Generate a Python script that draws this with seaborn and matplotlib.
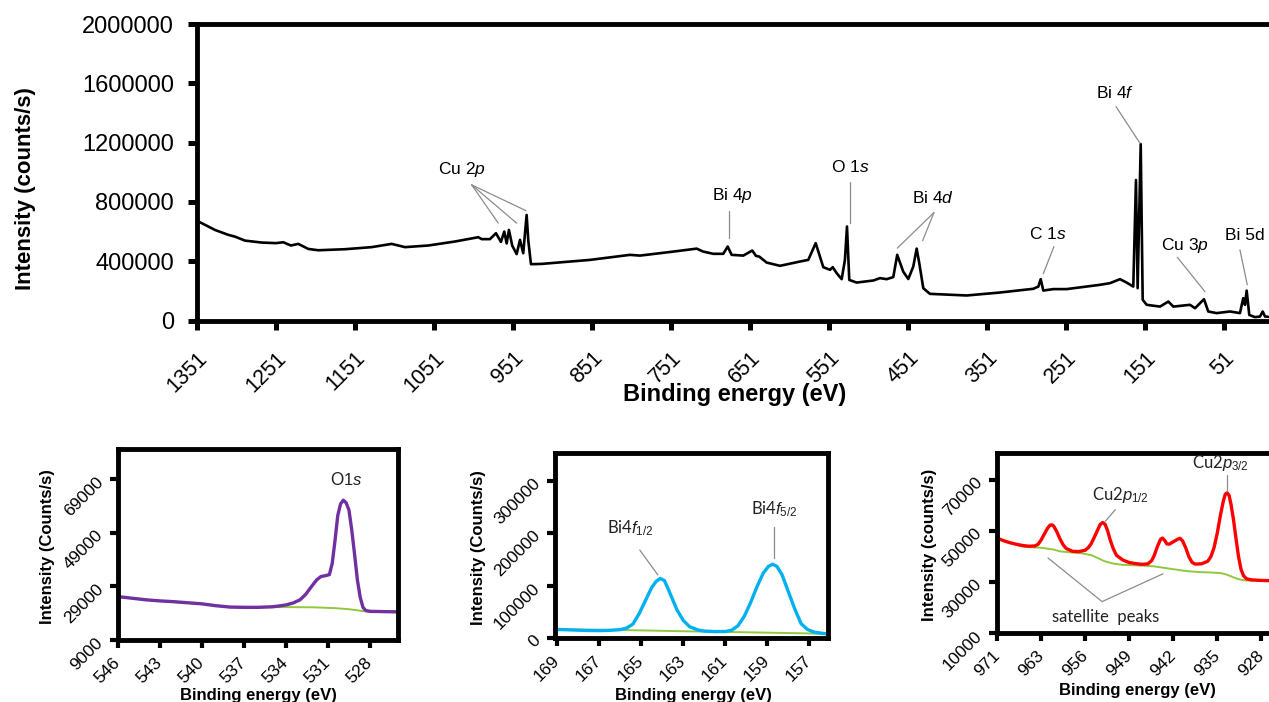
import matplotlib
matplotlib.use("Agg")
import matplotlib.pyplot as plt
import seaborn as sns

# ---------------- survey scan (binding energy in eV, counts/s) ----------------
survey_be = [1351, 1347.2, 1328.2, 1311.4, 1302.9, 1290.2, 1269.1, 1251, 1241.8, 1232.0,
             1222.8, 1210.1, 1197.5, 1163.7, 1129.9, 1104.5, 1087.7, 1058.2, 1024.4, 994.9,
             990.6, 980.1, 972.5, 966.2, 962.0, 959.0, 956.1, 951.9, 946.3, 942.1,
             938.0, 933.7, 931.6, 928.2, 914.7, 853.5, 802.9, 790.2, 748.1, 718.5,
             710.1, 697.5, 684.8, 679.2, 674.2, 659.5, 648.1, 643.4, 639.2, 629.9,
             613.0, 587.7, 577.2, 567.8, 562.4, 558.2, 549.7, 546.3, 541.3, 534.9,
             530.8, 528.2, 525.3, 515.9, 494.9, 486.4, 478.0, 469.6, 464.6, 457.0,
             450.6, 444.3, 440.0, 436.7, 431.6, 423.2, 376.7, 334.5, 292.4, 286.0,
             283.0, 279.7, 267.1, 250.1, 207.9, 195.3, 182.6, 174.2, 165.8, 162.4,
             160.3, 156.4, 153.9, 148.8, 131.9, 121.5, 115.1, 94.0, 87.7, 76.3,
             70.9, 60.3, 43.4, 30.8, 26.6, 24.4, 22.3, 19.0, 11.8, 5.4,
             2.0, -1.0, -5.0]
survey_counts = [665000, 663000, 611000, 578000, 566000, 539000, 526000, 522000, 528000, 506000,
                 517000, 483000, 474000, 481000, 495000, 517000, 495000, 506000, 533000, 562000,
                 549000, 549000, 589000, 530000, 600000, 520000, 611000, 505000, 448000, 544000,
                 454000, 712000, 540000, 380000, 382000, 409000, 443000, 438000, 465000, 485000,
                 465000, 450000, 450000, 499000, 443000, 438000, 472000, 436000, 431000, 391000,
                 369000, 398000, 409000, 522000, 431000, 360000, 342000, 360000, 320000, 279000,
                 409000, 634000, 274000, 256000, 270000, 286000, 279000, 293000, 443000, 330000,
                 280000, 364000, 485000, 387000, 218000, 180000, 169000, 189000, 214000, 229000,
                 279000, 202000, 212000, 212000, 241000, 252000, 279000, 256000, 229000, 948000,
                 218000, 1190000, 140000, 106000, 94000, 128000, 94000, 106000, 83000, 144000,
                 61000, 50000, 61000, 50000, 151000, 106000, 202000, 38000, 23000, 27000,
                 61000, 27000, 25000]
survey_xticks = [1351, 1251, 1151, 1051, 951, 851, 751, 651, 551, 451, 351, 251, 151, 51]
survey_yticks = [0, 400000, 800000, 1200000, 1600000, 2000000]

# ---------------- O 1s high-resolution scan ----------------
o1s_be = [546.0, 545.0, 544.0, 543.0, 542.0, 541.0, 540.0, 539.0, 538.0, 537.0,
          536.0, 535.0, 534.5, 534.0, 533.5, 533.0, 532.6, 532.2, 531.8, 531.5,
          531.2, 530.9, 530.7, 530.5, 530.3, 530.1, 529.9, 529.7, 529.5, 529.3,
          529.1, 528.9, 528.7, 528.5, 528.3, 528.0, 527.0, 526.0]
o1s_counts = [25200, 24600, 24000, 23600, 23300, 22900, 22500, 21800, 21300, 21200,
              21200, 21400, 21700, 22100, 22800, 24000, 26000, 28800, 31500, 32700,
              33000, 33400, 37500, 46000, 55500, 59800, 61200, 60200, 57500, 50000,
              41000, 31500, 25000, 21200, 20000, 19700, 19600, 19500]
o1s_bg_be = [546.0, 543.0, 540.0, 538.0, 536.0, 534.0, 532.0, 530.5, 529.5, 528.5, 528.0, 526.0]
o1s_bg = [25200, 23500, 22500, 21300, 21200, 21300, 21200, 20900, 20500, 19800, 19600, 19500]
o1s_xticks = [546, 543, 540, 537, 534, 531, 528]
o1s_yticks = [9000, 29000, 49000, 69000]

# ---------------- Bi 4f high-resolution scan ----------------
bi4f_be = [169.1, 168.5, 168.0, 167.5, 167.0, 166.5, 166.0, 165.7, 165.4, 165.1,
           164.8, 164.5, 164.3, 164.1, 163.9, 163.7, 163.5, 163.3, 163.0, 162.7,
           162.3, 162.0, 161.5, 161.0, 160.7, 160.4, 160.1, 159.8, 159.5, 159.2,
           158.95, 158.75, 158.55, 158.3, 158.0, 157.7, 157.4, 157.1, 156.8, 156.4, 156.1]
bi4f_counts = [17000, 16300, 15500, 14900, 14700, 15200, 16500, 19500, 27000, 47000,
               72000, 97000, 108000, 114000, 110000, 92000, 73000, 54000, 34000, 22000,
               15800, 13800, 12800, 13000, 15500, 24000, 42000, 68000, 98000, 124000,
               137000, 141000, 137000, 120600, 88000, 56000, 28000, 17000, 12000, 9500, 8200]
bi4f_bg_be = [169.1, 166.0, 163.0, 160.0, 157.0, 156.1]
bi4f_bg = [17000, 15900, 13500, 11500, 9300, 8200]
bi4f_xticks = [169, 167, 165, 163, 161, 159, 157]
bi4f_yticks = [0, 100000, 200000, 300000]

# ---------------- Cu 2p high-resolution scan ----------------
cu2p_be = [970.0, 969.0, 968.0, 967.0, 966.0, 965.0, 964.0, 963.5, 963.0, 962.5,
           962.0, 961.6, 961.3, 961.0, 960.5, 960.0, 959.5, 959.0, 958.0, 957.0,
           956.0, 955.5, 955.0, 954.5, 954.0, 953.6, 953.2, 952.8, 952.4, 952.0,
           951.5, 951.0, 950.0, 949.0, 948.0, 947.0, 946.0, 945.4, 945.0, 944.5,
           944.0, 943.7, 943.3, 943.0, 942.6, 942.0, 941.3, 940.9, 940.5, 940.0,
           939.5, 939.0, 938.5, 937.5, 936.5, 936.0, 935.5, 935.0, 934.5, 934.0,
           933.7, 933.4, 933.1, 932.8, 932.4, 932.0, 931.6, 931.2, 930.8, 930.3,
           929.5, 928.0, 926.5, 925.0]
cu2p_counts = [47300, 46300, 45500, 44900, 44400, 44100, 44200, 44800, 46500, 48800,
               51000, 52300, 52500, 52000, 49800, 47000, 44700, 43200, 42100, 42000,
               42500, 43500, 45200, 47800, 50500, 52600, 53400, 52600, 50000, 46500,
               43000, 40500, 38700, 37700, 37300, 37000, 37200, 38500, 40500, 44000,
               46800, 47300, 46200, 45000, 44900, 45800, 46800, 47200, 46200, 43500,
               40000, 37800, 37100, 37200, 38200, 40000, 43500, 49000, 56000, 62000,
               64500, 65000, 64000, 60500, 54500, 47000, 40000, 35000, 32500, 31300,
               30900, 30700, 30600, 30600]
cu2p_bg_be = [970.0, 969.0, 968.0, 967.0, 966.0, 965.0, 963.0, 961.0, 960.0, 958.0,
              956.5, 955.0, 954.0, 953.0, 951.5, 950.0, 947.0, 945.0, 942.0, 940.0,
              938.0, 936.0, 934.5, 933.5, 932.5, 931.5, 930.5, 928.0, 925.0]
cu2p_bg = [47300, 46300, 45400, 44700, 44000, 43700, 43500, 42800, 42100, 41600,
           41300, 40600, 39500, 38300, 37300, 36800, 36500, 36200, 35100, 34400,
           34000, 33800, 33600, 33000, 32000, 31100, 30700, 30600, 30600]
cu2p_xticks = [970, 963, 956, 949, 942, 935, 928]
cu2p_xticklabels = ["971", "963", "956", "949", "942", "935", "928"]
cu2p_yticks = [10000, 30000, 50000, 70000]

# ---------------- styling ----------------
sns.set_theme(style="white")
plt.rcParams["font.family"] = ["Liberation Sans", "DejaVu Sans"]
plt.rcParams["mathtext.fontset"] = "custom"
plt.rcParams["mathtext.rm"] = "Liberation Sans"
plt.rcParams["mathtext.it"] = "Liberation Sans:italic"
plt.rcParams["axes.linewidth"] = 3.5
plt.rcParams["axes.edgecolor"] = "black"
plt.rcParams["text.color"] = "black"
plt.rcParams["axes.labelcolor"] = "black"
plt.rcParams["xtick.color"] = "black"
plt.rcParams["ytick.color"] = "black"

fig = plt.figure(figsize=(12.69, 7.02), dpi=100)
fig.patch.set_facecolor("white")

LEADER = dict(color="#8c8c8c", lw=0.9)
CALIBRI = ["Lato", "DejaVu Sans"]


def frame(ax, size, tick_len, tick_w, pad):
    for s in ax.spines.values():
        s.set_linewidth(3.5)
        s.set_color("black")
        s.set_visible(True)
    ax.tick_params(axis="both", which="major", direction="out", length=tick_len,
                   width=tick_w, color="black", labelsize=size, pad=pad,
                   bottom=True, left=True, top=False, right=False, labelcolor="black")
    ax.grid(False)


def leader(ax, start, end):
    ax.plot([start[0], end[0]], [start[1], end[1]], **LEADER)


# ---------------- survey ----------------
ax = fig.add_axes([0.1552, 0.5434, 0.8473, 0.4224])
sns.lineplot(x=survey_be, y=survey_counts, ax=ax, color="black", linewidth=1.9)
ax.set_xlim(1351, -10)
ax.set_ylim(0, 2000000)
ax.set_xticks(survey_xticks)
ax.set_yticks(survey_yticks)
ax.set_yticklabels([str(v) for v in survey_yticks])
frame(ax, 17, 6.5, 3.6, 10)
ax.tick_params(axis="x", pad=13, labelsize=15.5)
for lab in ax.get_xticklabels():
    lab.set_rotation(45)
    lab.set_ha("right")
    lab.set_rotation_mode("anchor")
ax.set_xlabel("Binding energy (eV)", fontsize=17, fontweight="bold")
ax.set_ylabel("Intensity (counts/s)", fontsize=16, fontweight="bold")
ax.xaxis.set_label_coords(0.5005, -0.21)
ax.yaxis.set_label_coords(-0.150, 0.445)

txt = dict(fontsize=12.5, ha="center", va="center", color="black")
ax.text(1016, 1016000, r"Cu $\mathit{2p}$", **txt)
for e, c in [(969.6, 657000), (946.3, 657000), (934.5, 741000)]:
    leader(ax, (1003.3, 915000), (e, c))
ax.text(672.5, 840000, r"Bi $\mathit{4p}$", **txt)
leader(ax, (677.2, 741000), (677.2, 556000))
ax.text(524.4, 1036000, r"O $\mathit{1s}$", **txt)
leader(ax, (524.4, 937000), (524.4, 661000))
ax.text(418.7, 827000, r"Bi $\mathit{4d}$", **txt)
leader(ax, (418.1, 728000), (464.5, 488000))
leader(ax, (418.1, 728000), (432.4, 539000))
ax.text(273.8, 584000, r"C $\mathit{1s}$", **txt)
leader(ax, (266.2, 499000), (279.8, 315000))
ax.text(188.3, 1535000, r"Bi $\mathit{4f}$", **txt)
leader(ax, (187.7, 1443000), (157.3, 1196000))
ax.text(100.4, 506000, r"Cu $\mathit{3p}$", **txt)
leader(ax, (110.1, 427000), (75.1, 195000))
ax.text(24.4, 571000, "Bi 5d", **txt)
leader(ax, (30.8, 477000), (21.5, 241000))


def small_panel(rect, be, counts, bg_be, bg, color, xlim, ylim, xticks, yticks,
                ylabel, xcoords, ycoords, xticklabels=None):
    a = fig.add_axes(rect)
    sns.lineplot(x=bg_be, y=bg, ax=a, color="#92C83E", linewidth=1.4)
    sns.lineplot(x=be, y=counts, ax=a, color=color, linewidth=2.4)
    a.set_xlim(*xlim)
    a.set_ylim(*ylim)
    a.set_xticks(xticks)
    a.set_xticklabels(xticklabels if xticklabels else [str(v) for v in xticks])
    a.set_yticks(yticks)
    a.set_yticklabels([str(v) for v in yticks])
    frame(a, 12.5, 5.5, 3.0, 4)
    a.tick_params(axis="x", pad=9)
    a.tick_params(axis="y", pad=7)
    for lab in a.get_xticklabels() + a.get_yticklabels():
        lab.set_rotation(45)
        lab.set_ha("right")
        lab.set_va("center")
        lab.set_rotation_mode("anchor")
    a.set_xlabel("Binding energy (eV)", fontsize=12, fontweight="bold")
    a.set_ylabel(ylabel, fontsize=12, fontweight="bold")
    a.xaxis.set_label_coords(*xcoords)
    a.yaxis.set_label_coords(*ycoords)
    return a


lbl = dict(fontsize=12, ha="center", va="center", color="#222222", family=CALIBRI)

# O 1s
a1 = small_panel([0.0930, 0.0883, 0.2206, 0.2717], o1s_be, o1s_counts, o1s_bg_be, o1s_bg,
                 "#7030A0", (546, 526), (9000, 80200), o1s_xticks, o1s_yticks,
                 "Intensity (Counts/s)", (0.50, -0.25), (-0.225, 0.49))
a1.text(529.7, 69000, r"O$\mathit{1s}$", **lbl)

# Bi 4f
a2 = small_panel([0.4374, 0.0907, 0.2154, 0.2635], bi4f_be, bi4f_counts, bi4f_bg_be, bi4f_bg,
                 "#00B0F0", (169.1, 156.1), (0, 352000), bi4f_xticks, bi4f_yticks,
                 "Intensity (Counts/s)", (0.506, -0.27), (-0.252, 0.49))
a2.text(165.53, 210000, r"Bi4$\mathit{f}_{\mathit{1/2}}$", **lbl)
leader(a2, (165.07, 168000), (164.21, 120600))
a2.text(158.67, 246000, r"Bi4$\mathit{f}_{\mathit{5/2}}$", **lbl)
leader(a2, (158.67, 212600), (158.67, 152400))

# Cu 2p
a3 = small_panel([0.7857, 0.0979, 0.2230, 0.2564], cu2p_be, cu2p_counts, cu2p_bg_be, cu2p_bg,
                 "#FF0000", (970, 925), (10000, 80500), cu2p_xticks, cu2p_yticks,
                 "Intensity (counts/s)", (0.495, -0.275), (-0.212, 0.49),
                 xticklabels=cu2p_xticklabels)
a3.text(950.4, 64200, r"Cu2$\mathit{p}_{\mathit{1/2}}$", **lbl)
leader(a3, (951.2, 58400), (952.8, 53800))
a3.text(934.5, 76800, r"Cu2$\mathit{p}_{\mathit{3/2}}$", **lbl)
leader(a3, (933.4, 72100), (933.4, 65900))
a3.text(952.8, 16500, "satellite  peaks", **lbl)
leader(a3, (953.3, 22400), (961.9, 39500))
leader(a3, (953.3, 22400), (943.6, 33300))

fig.savefig("out.png", dpi=100, facecolor="white")
